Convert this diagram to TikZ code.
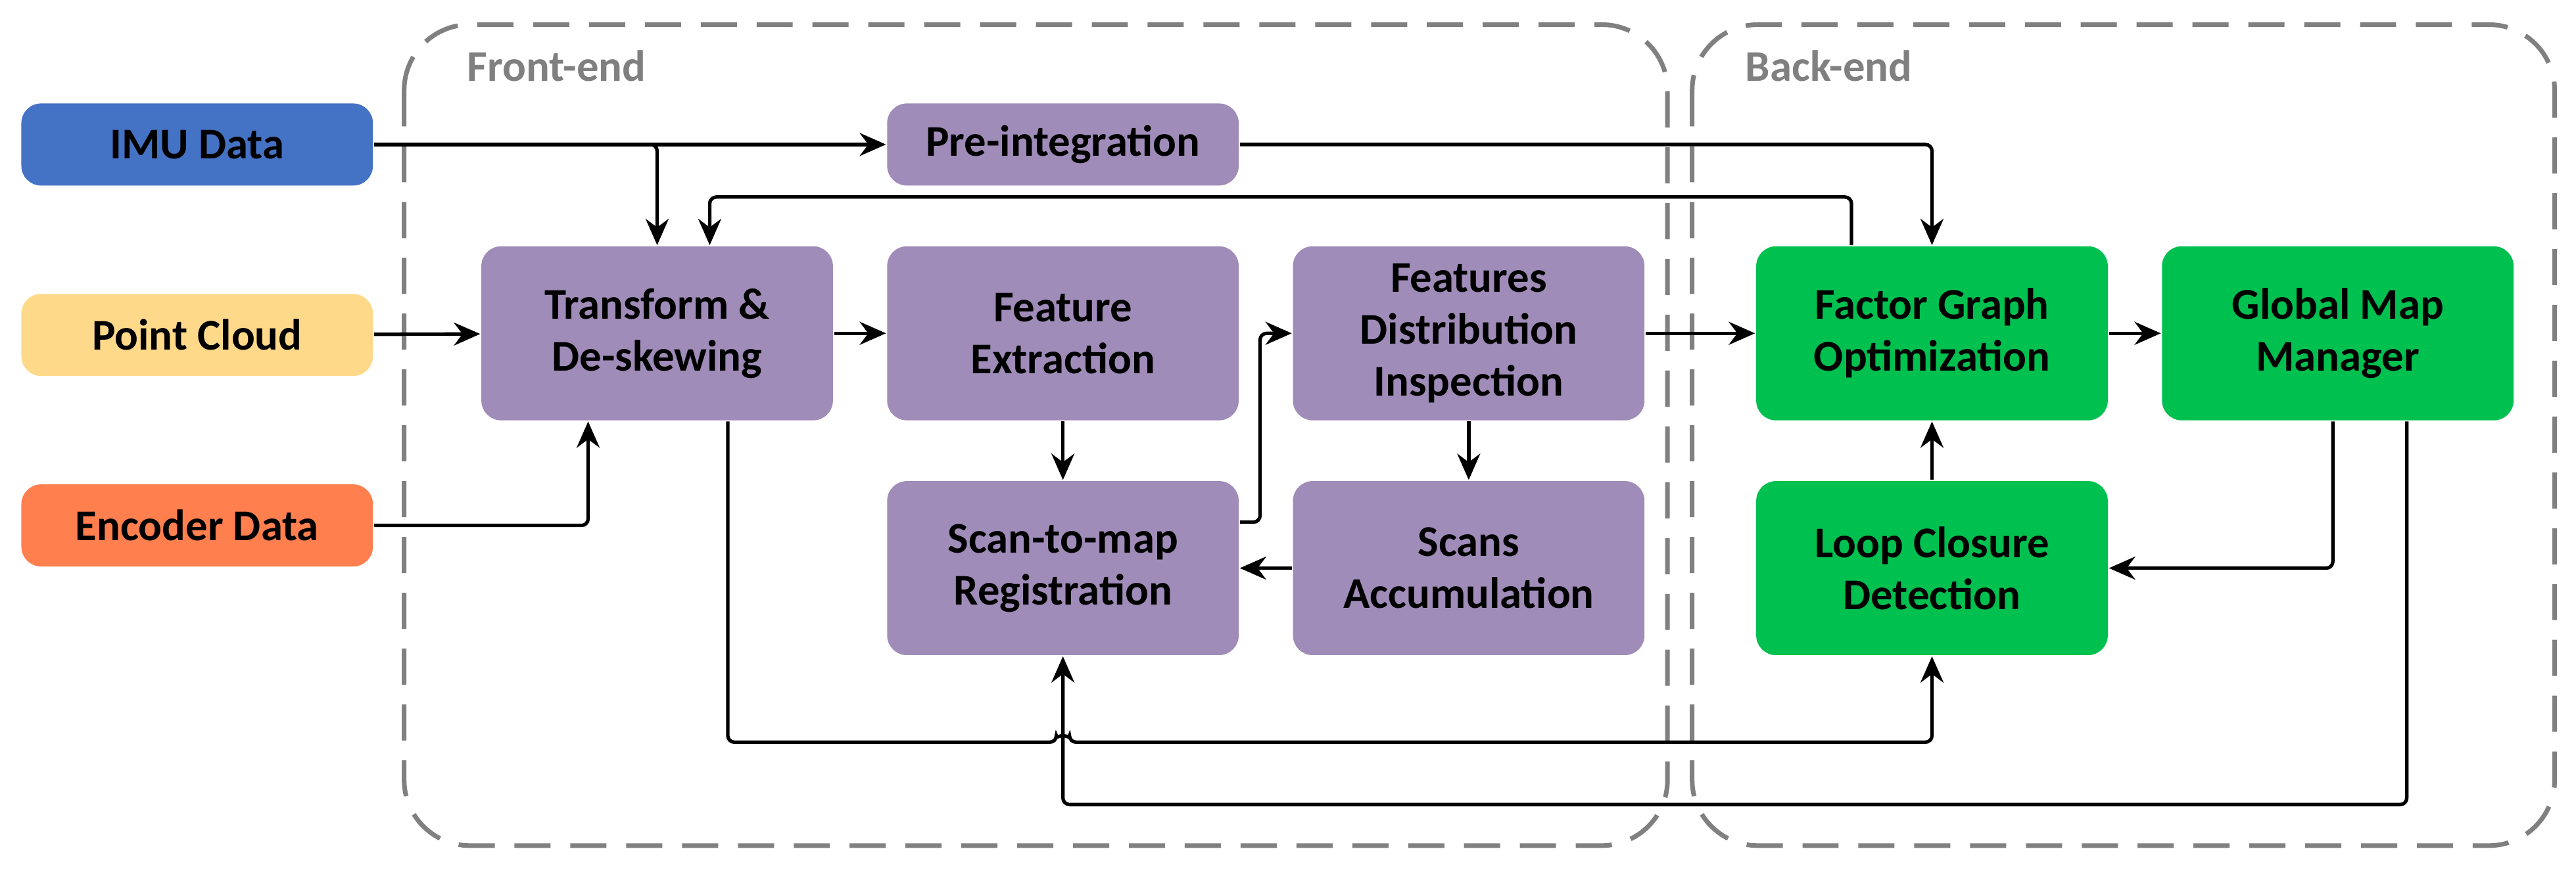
\documentclass[tikz,border=0pt]{standalone}
\usepackage{fontspec}
\setmainfont{Carlito}
\usetikzlibrary{arrows.meta}
\definecolor{imublue}{HTML}{4472C4}
\definecolor{cloudyel}{HTML}{FFD98A}
\definecolor{encorange}{HTML}{FF7F4F}
\definecolor{procpurple}{HTML}{A08CB8}
\definecolor{backgreen}{HTML}{00C050}
\definecolor{framegray}{HTML}{808080}
\tikzset{
  every block/.style={rounded corners=1.2mm, inner sep=0pt, align=center,
    font=\fontsize{7.6}{9}\selectfont\bfseries, minimum width=21.4mm},
  input/.style={every block, minimum height=5mm},
  stage/.style={every block, minimum height=10.6mm, fill=procpurple},
  back/.style={every block, minimum height=10.6mm, fill=backgreen},
  frame/.style={draw=framegray, dashed, line width=0.8pt, dash pattern=on 2.2mm off 1.2mm, rounded corners=4mm},
  framelabel/.style={text=framegray, anchor=west, font=\fontsize{7.6}{9}\selectfont\bfseries},
  link/.style={-{Stealth[length=1.6mm,width=1.4mm]}, line width=0.6pt, rounded corners=0.4mm}
}
\begin{document}
\begin{tikzpicture}[x=0.1mm, y=-0.1mm]
  \useasboundingbox (0,0) rectangle (1568,531);

  % frames
  \draw [frame] (246,15) rectangle (1015,515);
  \draw [frame] (1030,15) rectangle (1555,515);
  \node [framelabel] (front-label) at (272,40) {Front-end};
  \node [framelabel] (back-label) at (1050,40) {Back-end};

  % inputs
  \node [input, fill=imublue] (imu) at (120,88) {IMU Data};
  \node [input, fill=cloudyel] (cloud) at (120,204) {Point Cloud};
  \node [input, fill=encorange] (encoder) at (120,320) {Encoder Data};

  % front-end
  \node [input, fill=procpurple] (preint) at (647,88) {Pre-integration};
  \node [stage] (deskew) at (400,203) {Transform \&\\De-skewing};
  \node [stage] (extract) at (647,203) {Feature\\Extraction};
  \node [stage] (inspect) at (894,203) {Features\\Distribution\\Inspection};
  \node [stage] (register) at (647,346) {Scan-to-map\\Registration};
  \node [stage] (accum) at (894,346) {Scans\\Accumulation};

  % back-end
  \node [back] (factor) at (1176,203) {Factor Graph\\Optimization};
  \node [back] (globalmap) at (1423,203) {Global Map\\Manager};
  \node [back] (loop) at (1176,346) {Loop Closure\\Detection};

  % connectors
  \draw [link] (imu) -- (preint);
  \draw [link] (imu.east) -| (deskew.north);
  \draw [link] (preint.east) -| (factor.north);
  \draw [link] (factor.north -| 1127,0) |- (432,120) -- (deskew.north -| 432,0);
  \draw [link] (cloud) -- (deskew);
  \draw [link] (encoder.east) -| (deskew.south -| 358,0);
  \draw [link] (deskew) -- (extract);
  \draw [link] (extract) -- (register);
  \draw [link] (register.east |- 0,318) -| (767,203) -- (inspect.west);
  \draw [link] (inspect) -- (accum);
  \draw [link] (accum) -- (register);
  \draw [link] (inspect) -- (factor);
  \draw [link] (factor) -- (globalmap);
  \draw [link] (loop) -- (factor);
  \draw [link] (globalmap.south -| 1420,0) |- (loop.east);
  \draw [link] (deskew.south -| 443,0) -- (443,452) -- (643,452) arc (180:360:4) -- (1176,452) -- (loop.south);
  \draw [link] (globalmap.south -| 1465,0) -- (1465,490) -- (647,490) -- (register.south);
\end{tikzpicture}
\end{document}
